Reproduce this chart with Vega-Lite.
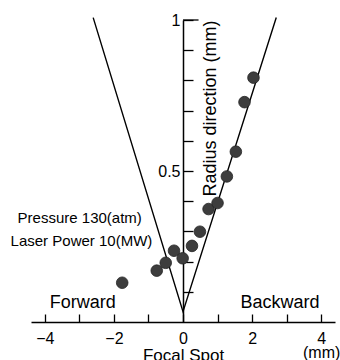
{
  "$schema": "https://vega.github.io/schema/vega-lite/v6.json",
  "width": 304,
  "height": 302,
  "autosize": {"type": "none"},
  "padding": {"left": 31, "top": 20, "right": 5, "bottom": 38},
  "background": "white",
  "config": {
    "view": {"stroke": null},
    "font": "Liberation Sans",
    "axis": {"grid": false, "domainColor": "black", "tickColor": "black", "labelColor": "black", "titleColor": "black", "domainWidth": 1.5, "tickWidth": 1.3, "labelOverlap": false}
  },
  "datasets": {
    "pts": [
      {"x": -1.76, "y": 0.130}, {"x": -0.76, "y": 0.170}, {"x": -0.50, "y": 0.196},
      {"x": -0.26, "y": 0.236}, {"x": -0.01, "y": 0.211}, {"x": 0.26, "y": 0.252},
      {"x": 0.49, "y": 0.299}, {"x": 0.74, "y": 0.374}, {"x": 1.00, "y": 0.394},
      {"x": 1.27, "y": 0.482}, {"x": 1.53, "y": 0.564}, {"x": 1.78, "y": 0.728},
      {"x": 2.04, "y": 0.809}
    ],
    "vee": [
      {"x": -2.6, "y": 1.008, "o": 1}, {"x": 0, "y": 0.034, "o": 2}, {"x": 2.7, "y": 1.008, "o": 3}
    ],
    "big": [
      {"x": -2.9, "y": 0.045, "t": "Forward"},
      {"x": 2.81, "y": 0.045, "t": "Backward"}
    ],
    "small": [
      {"x": -2.99, "y": 0.327, "t": "Pressure 130(atm)"},
      {"x": -2.94, "y": 0.252, "t": "Laser Power 10(MW)"}
    ],
    "top": [{"x": 0, "x2": 0.45, "y": 1}]
  },
  "layer": [
    {
      "data": {"name": "vee"},
      "mark": {"type": "line", "color": "black", "strokeWidth": 1.4, "clip": false},
      "encoding": {
        "x": {
          "field": "x", "type": "quantitative",
          "scale": {"domain": [-4.4, 4.4], "nice": false, "zero": false},
          "axis": {
            "orient": "bottom",
            "values": [-4, -3, -2, -1, 0, 1, 2, 3, 4],
            "tickCount": 30,
            "format": "d",
            "tickSize": -8,
            "labelPadding": 16,
            "labelFontSize": 16,
            "labelLineHeight": 14,
            "labelExpr": "datum.value == 4 ? ['4', '(mm)'] : (datum.value % 2 == 0 ? datum.label : '')",
            "labelFlush": false,
            "title": "Focal Spot",
            "titleFontSize": 17,
            "titleFontWeight": "normal",
            "titleY": 38,
            "titleBaseline": "alphabetic"
          }
        },
        "y": {
          "field": "y", "type": "quantitative",
          "scale": {"domain": [0, 1], "nice": false},
          "axis": {
            "orient": "left",
            "offset": -152,
            "values": [0.1, 0.2, 0.3, 0.4, 0.5, 0.6, 0.7, 0.8, 0.9, 1],
            "tickCount": 30,
            "tickSize": -10,
            "labelPadding": 13,
            "labelFontSize": 16,
            "labelExpr": "datum.value > 0.95 ? '1' : (abs(datum.value - 0.5) < 0.01 ? '0.5' : '')",
            "labelFlush": false,
            "labelOverlap": false,
            "title": "Radius direction (mm)",
            "titleFontSize": 18,
            "titleFontWeight": "normal",
            "titleAngle": -90,
            "titleX": 27,
            "titleY": 88,
            "titleAlign": "center",
            "titleBaseline": "middle"
          }
        },
        "order": {"field": "o"}
      }
    },
    {
      "data": {"name": "top"},
      "mark": {"type": "rule", "color": "black", "strokeWidth": 1.3},
      "encoding": {
        "x": {"field": "x", "type": "quantitative"},
        "x2": {"field": "x2"},
        "y": {"field": "y", "type": "quantitative"}
      }
    },
    {
      "data": {"name": "pts"},
      "mark": {"type": "circle", "size": 135, "color": "#3d3d3d", "opacity": 1, "stroke": "#222", "strokeWidth": 0.8},
      "encoding": {
        "x": {"field": "x", "type": "quantitative"},
        "y": {"field": "y", "type": "quantitative"}
      }
    },
    {
      "data": {"name": "big"},
      "mark": {"type": "text", "fontSize": 18, "color": "black", "align": "center", "baseline": "alphabetic"},
      "encoding": {
        "x": {"field": "x", "type": "quantitative"},
        "y": {"field": "y", "type": "quantitative"},
        "text": {"field": "t"}
      }
    },
    {
      "data": {"name": "small"},
      "mark": {"type": "text", "fontSize": 15, "color": "black", "align": "center", "baseline": "alphabetic"},
      "encoding": {
        "x": {"field": "x", "type": "quantitative"},
        "y": {"field": "y", "type": "quantitative"},
        "text": {"field": "t"}
      }
    }
  ]
}
